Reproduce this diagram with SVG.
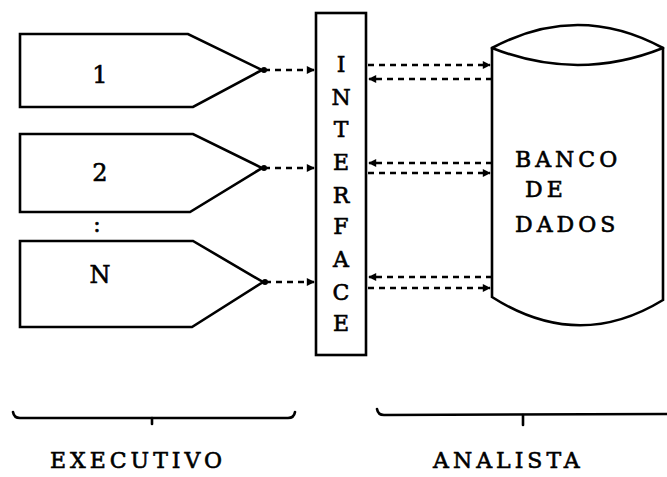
<svg xmlns="http://www.w3.org/2000/svg" width="667" height="477" viewBox="0 0 667 477">
<defs>
<style>
.shape{fill:#fff;stroke:#000;stroke-width:2.6;stroke-linejoin:miter}
.line{fill:none;stroke:#000;stroke-width:2.6;stroke-linecap:round}
.dash{fill:none;stroke:#000;stroke-width:2.4;stroke-dasharray:6 5}
.t{font-family:"DejaVu Serif","Liberation Serif",serif;font-size:22px;fill:#000;stroke:#000;stroke-width:0.6}
.big{font-size:24px}
.lbl{letter-spacing:4px}
</style>
<marker id="ah" viewBox="0 0 10 10" refX="9" refY="5" markerWidth="10" markerHeight="8" markerUnits="userSpaceOnUse" orient="auto-start-reverse">
<path d="M0,0 L10,5 L0,10 z" fill="#000"/>
</marker>
<marker id="dot" viewBox="0 0 10 10" refX="5" refY="5" markerWidth="6" markerHeight="6" markerUnits="userSpaceOnUse">
<circle cx="5" cy="5" r="5" fill="#000"/>
</marker>
</defs>
<rect width="667" height="477" fill="#fff"/>

<g id="node1">
<path class="shape" d="M20,34 L188,34 L262,70 L193,107 L20,107 Z"/>
<text class="t big" x="100" y="83" text-anchor="middle">1</text>
</g>
<g id="node2">
<path class="shape" d="M20,134 L193,134 L262,168 L190,212 L20,212 Z"/>
<text class="t big" x="100" y="181" text-anchor="middle">2</text>
</g>
<g id="dots">
<text class="t" x="97" y="232" text-anchor="middle">:</text>
</g>
<g id="nodeN">
<path class="shape" d="M20,241 L193,241 L263,282 L192,327 L20,327 Z"/>
<text class="t big" x="100" y="283" text-anchor="middle">N</text>
</g>

<g id="interface">
<rect class="shape" x="316" y="13" width="50" height="342"/>
<g class="t" text-anchor="middle">
<text x="341" y="72">I</text>
<text x="341" y="105">N</text>
<text x="341" y="137">T</text>
<text x="341" y="170">E</text>
<text x="341" y="203">R</text>
<text x="341" y="234">F</text>
<text x="341" y="267">A</text>
<text x="341" y="300">C</text>
<text x="341" y="331">E</text>
</g>
</g>

<g id="banco">
<path class="shape" d="M492,48 Q578,2 663,48 L663,300 Q578,352 492,297 Z"/>
<path class="line" d="M492,48 Q578,82 663,48"/>
<g class="t lbl">
<text x="515" y="167">BANCO</text>
<text x="525" y="197">DE</text>
<text x="515" y="232">DADOS</text>
</g>
</g>

<g id="connectors">
<path class="dash" d="M264,70 L314,70" marker-start="url(#dot)" marker-end="url(#ah)"/>
<path class="dash" d="M264,168 L314,168" marker-start="url(#dot)" marker-end="url(#ah)"/>
<path class="dash" d="M265,282 L314,282" marker-start="url(#dot)" marker-end="url(#ah)"/>

<path class="dash" d="M368,65 L490,65" marker-end="url(#ah)"/>
<path class="dash" d="M492,79 L369,79" marker-end="url(#ah)"/>
<path class="dash" d="M492,163 L369,163" marker-end="url(#ah)"/>
<path class="dash" d="M368,173 L490,173" marker-end="url(#ah)"/>
<path class="dash" d="M492,277 L369,277" marker-end="url(#ah)"/>
<path class="dash" d="M368,288 L490,288" marker-end="url(#ah)"/>
</g>

<g id="brace-executivo">
<path class="line" d="M13,412 Q14,418 20,418 L288,418 Q294,418 295,412"/>
<path class="line" d="M152,418 L152,424"/>
<text class="t lbl" x="50" y="468">EXECUTIVO</text>
</g>
<g id="brace-analista">
<path class="line" d="M377,409 Q378,415 384,415 L667,414"/>
<path class="line" d="M523,415 L523,425"/>
<text class="t lbl" x="433" y="468">ANALISTA</text>
</g>
</svg>
